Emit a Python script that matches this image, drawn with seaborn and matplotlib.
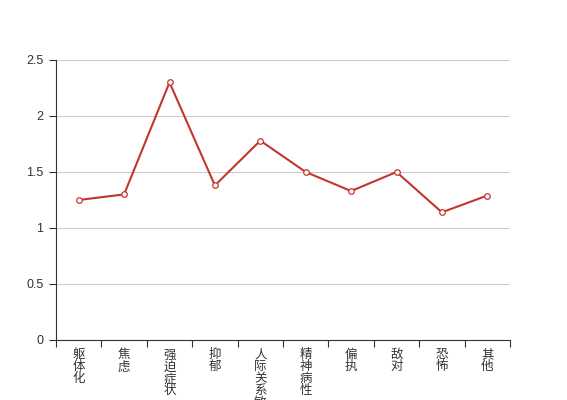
import numpy as np
import pandas as pd
import matplotlib
matplotlib.use("Agg")
import matplotlib.pyplot as plt
import seaborn as sns

sns.set_theme(style="white")
plt.rcParams["font.family"] = ["Noto Sans CJK SC", "DejaVu Sans"]

# 数据
factors = ["躯体化", "焦虑", "强迫症状", "抑郁", "人际关系敏感",
           "精神病性", "偏执", "敌对", "恐怖", "其他"]
scores = [1.25, 1.30, 2.30, 1.38, 1.78, 1.50, 1.33, 1.50, 1.14, 1.29]
y_ticks = [0, 0.5, 1, 1.5, 2, 2.5]
y_tick_labels = ["0", "0.5", "1", "1.5", "2", "2.5"]

df = pd.DataFrame({"factor": factors, "score": scores})

line_color = "#c23531"
axis_color = "#333333"

fig = plt.figure(figsize=(5.67, 4.0), dpi=100)
ax = fig.add_axes([56 / 567, 60 / 400, 454 / 567, 280 / 400])

sns.lineplot(data=df, x="factor", y="score", ax=ax, color=line_color,
             linewidth=1.5, marker="o", markersize=4,
             markerfacecolor="white", markeredgecolor=line_color,
             markeredgewidth=0.9, sort=False)

ax.set_xlim(-0.5, len(factors) - 0.5)
ax.set_ylim(0, 2.5)

# y 轴
ax.set_yticks(y_ticks)
ax.set_yticklabels(y_tick_labels, family=["Liberation Sans", "DejaVu Sans"])
ax.yaxis.grid(True, color="#cccccc", linewidth=0.8)
ax.set_axisbelow(True)
ax.tick_params(axis="y", which="major", direction="out", length=5, width=0.8,
               color=axis_color, labelsize=9, labelcolor=axis_color, pad=4, left=True)

# x 轴：刻度在类目边界，标签在类目中间（竖排）
ax.set_xticks(np.arange(-0.5, len(factors), 1.0))
ax.set_xticklabels([])
ax.set_xticks(np.arange(len(factors)), minor=True)
ax.set_xticklabels(["\n".join(f) for f in factors], minor=True,
                   va="top", linespacing=0.9)
ax.tick_params(axis="x", which="major", direction="out", length=5, width=0.8,
               color=axis_color, bottom=True)
ax.tick_params(axis="x", which="minor", length=0, labelsize=9,
               labelcolor=axis_color, pad=6)

for side in ["top", "right"]:
    ax.spines[side].set_visible(False)
for side in ["left", "bottom"]:
    ax.spines[side].set_color(axis_color)
    ax.spines[side].set_linewidth(0.8)

ax.set_xlabel("")
ax.set_ylabel("")

fig.savefig("out.png", dpi=100)
